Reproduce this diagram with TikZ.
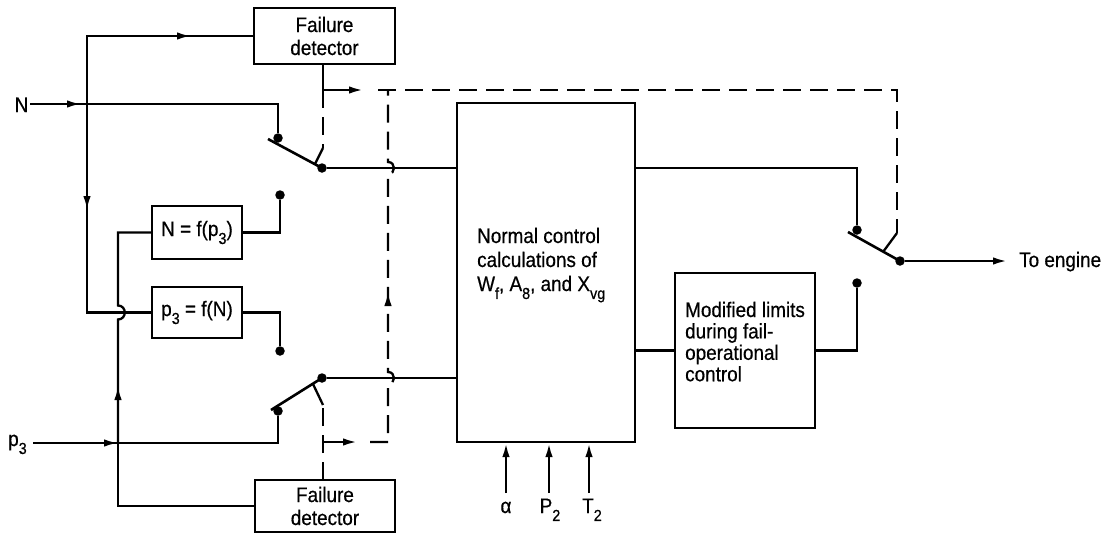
\documentclass[tikz,border=0pt]{standalone}
\usepackage{fontspec}
\setmainfont{Liberation Sans}[FakeStretch=0.9,FakeBold=0.5]
\usetikzlibrary{arrows.meta,decorations.markings}
\newcommand\sbs[1]{\raisebox{-0.38em}{\fontsize{16}{16}\selectfont #1}}
\tikzset{
  wire/.style={line width=2.3pt},
  blade/.style={line width=2.6pt},
  dashwire/.style={line width=2.3pt, dash pattern=on 18pt off 9pt},
  box/.style={draw, line width=2.3pt, inner sep=0pt},
  contact/.style={circle, fill, inner sep=0pt, minimum size=9.5pt},
  arrowend/.style={-{Latex[length=14pt,width=7.5pt]}},
  midtip/.style={postaction={decorate}, decoration={markings, mark=at position #1 with {\arrow{Latex[length=14pt,width=7.5pt]}}}},
  lbl/.style={inner sep=0pt}
}
\begin{document}
\begin{tikzpicture}[x=1pt,y=-1pt,font=\fontsize{21}{23}\selectfont]
\fill[white] (0,0) rectangle (1112,536);
\useasboundingbox (0,0) rectangle (1112,536);

% boxes
\node[box, minimum width=141pt, minimum height=56pt, align=center] (detU) at (324.5,36) {Failure\\detector};
\node[box, minimum width=140pt, minimum height=52pt, align=center] (detL) at (325,506) {Failure\\detector};
\node[box, minimum width=90pt, minimum height=53pt] (fA) at (197,232.5) {N = f(p\sbs{3})};
\node[box, minimum width=90pt, minimum height=51pt] (fB) at (197,312.5) {p\sbs{3} = f(N)};
\node[box, minimum width=178pt, minimum height=339pt] (calc) at (546,272.5) {};
\node[box, minimum width=140pt, minimum height=155pt] (mod) at (745,350.5) {};

\node[lbl, anchor=base west] (calctext) at (477,243) {\begin{tabular}[t]{@{}l@{}}Normal control\\[1pt] calculations of\\[1pt] W\sbs{f}, A\sbs{8}, and X\sbs{vg}\end{tabular}};
\node[lbl, anchor=base west] (modtext) at (685,317) {\renewcommand\arraystretch{0.9}\begin{tabular}[t]{@{}l@{}}Modified limits\\ during fail-\\ operational\\ control\end{tabular}};

% labels
\node[lbl, anchor=base] (labN) at (21.5,112) {N};
\node[lbl, anchor=base west] (labP) at (8,446) {p\sbs{3}};
\node[lbl, anchor=base west] (labE) at (1019,267) {To engine};
\node[lbl, anchor=base] (la) at (506,513) {α};
\node[lbl, anchor=base] (lp) at (550,513) {P\sbs{2}};
\node[lbl, anchor=base] (lt) at (592,513) {T\sbs{2}};

% contacts
\node[contact] (c1a) at (278,138) {};
\node[contact] (c1b) at (280,195) {};
\node[contact] (p1) at (322,168) {};
\node[contact] (c2a) at (280,351) {};
\node[contact] (c2b) at (278,411) {};
\node[contact] (p2) at (322,378) {};
\node[contact] (cRa) at (857,230) {};
\node[contact] (cRb) at (857,283) {};
\node[contact] (pR) at (900,261) {};

% coordinates
\coordinate (Nin) at (30,104);
\coordinate (jN) at (87,104);
\coordinate (kN) at (87,36);
\coordinate (bN) at (87,312.5);
\coordinate (Pin) at (33,443);
\coordinate (jP) at (118,443);
\coordinate (b1) at (268,139);
\coordinate (b2) at (271,410);
\coordinate (bR) at (848,232);
\coordinate (Eout) at (1007,261);

% input wiring
\draw[wire, midtip=51pt] (Nin) -- (c1a |- Nin) -- (c1a);
\draw[wire, midtip=172pt] (jN) -- (kN) -- (detU.west);
\draw[wire, midtip=106pt] (jN) -- (bN) -- (fB.west);
\draw[wire, midtip=85pt] (Pin) -- (c2b |- Pin) -- (c2b);
\draw[wire, midtip=57pt] (jP) -- (118,319.5) .. controls (127,319.5) and (127,305.5) .. (118,305.5) -- (118,232.5) -- (fA.west);
\draw[wire] (jP) -- (118,506) -- (detL.west);
\draw[wire] (fA.east) -- (c1b |- fA.east) -- (c1b);
\draw[wire] (fB.east) -- (c2a |- fB.east) -- (c2a);

% switches
\draw[blade] (p1.center) -- (b1);
\draw[blade] (p2.center) -- (b2);
\draw[blade] (pR.center) -- (bR);

% to calc and beyond
\draw[wire] (p1) -- (p1 -| calc.west);
\draw[wire] (p2) -- (p2 -| calc.west);
\draw[wire] (p1 -| calc.east) -- (cRa |- p1) -- (cRa);
\draw[wire] (calc.east |- mod.west) -- (mod.west);
\draw[wire] (mod.east) -- (cRb |- mod.east) -- (cRb);
\draw[wire, arrowend] (pR) -- (Eout);

% bottom inputs
\coordinate (ia) at (506,493);
\coordinate (ip) at (549,493);
\coordinate (it) at (589,493);
\draw[wire, arrowend] (ia) -- (ia |- calc.south);
\draw[wire, arrowend] (ip) -- (ip |- calc.south);
\draw[wire, arrowend] (it) -- (it |- calc.south);

% upper failure detector actuation
\coordinate (aU0) at (323,64);
\coordinate (aU1) at (323,90);
\coordinate (aU2) at (323,148);
\coordinate (aU3) at (315,164);
\coordinate (tU) at (363,90);
\draw[wire, arrowend] (aU0) -- (aU1) -- (tU);
\draw[dashwire] (aU1) -- (aU2);
\draw[wire] (aU2) -- (aU3);

% lower failure detector actuation
\coordinate (aL0) at (323,480);
\coordinate (aL1) at (323,442);
\coordinate (aL2) at (323,405);
\coordinate (aL3) at (313,384);
\coordinate (tL) at (357,442);
\draw[dashwire] (aL0) -- (aL2);
\draw[wire] (aL2) -- (aL3);
\draw[wire, arrowend] (aL1) -- (tL);

% dashed bus to output switch
\coordinate (dA) at (378,90);
\coordinate (dB) at (897,90);
\coordinate (dC) at (897,233);
\coordinate (dD) at (883,252);
\draw[dashwire] (dA) -- (dB) -- (dC);
\draw[wire] (dC) -- (dD);
\draw[dashwire, midtip=175pt] (370,442) -- (388,442) -- (388,384) .. controls (396,384) and (396,372) .. (388,372) -- (388,174) .. controls (396,174) and (396,162) .. (388,162) -- (388,90);
\end{tikzpicture}
\end{document}
